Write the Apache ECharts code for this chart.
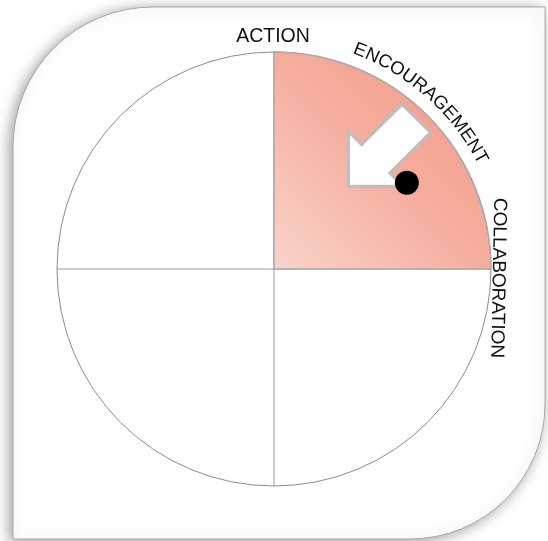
<!DOCTYPE html>
<html>
<head>
<meta charset="utf-8">
<script src="https://cdn.jsdelivr.net/npm/echarts@6/dist/echarts.min.js"></script>
<style>html,body{margin:0;padding:0;background:#fff;}#c{width:548px;height:541px;}</style>
</head>
<body>
<div id="c"></div>
<script>
// ---- data ----
const labels = ['ACTION', 'ENCOURAGEMENT', 'COLLABORATION'];
const quadrantNames = ['Encouragement', 'Other'];
const quadrantValues = [90, 270];          // degrees: filled quadrant, remainder
const dotPoint = [0.73, 33];               // [radius fraction, angle deg]
const arrowPoint = [0.78, 47];             // [radius fraction, angle deg]

// ---- layout ----
const CX = 274, CY = 269, R = 217;
const FONT = '"Liberation Sans", Arial, Helvetica, sans-serif';
const chart = echarts.init(document.getElementById('c'), null, {renderer: 'canvas'});

const mctx = document.createElement('canvas').getContext('2d');
function txtStyle(t, size) {
  return {text: t, fontSize: size, fontFamily: FONT, fill: '#111',
          align: 'center', verticalAlign: 'middle', textAlign: 'center', textVerticalAlign: 'middle'};
}
function arcText(text, centerDeg, rBase, size) {
  mctx.font = size + 'px ' + FONT;
  const chars = Array.from(text);
  const widths = chars.map(c => mctx.measureText(c).width);
  const total = widths.reduce((a, b) => a + b, 0);
  const rMid = rBase + size * 0.36;
  let s = -total / 2;
  return chars.map((c, i) => {
    const mid = s + widths[i] / 2; s += widths[i];
    const phi = centerDeg * Math.PI / 180 + mid / rBase;
    return {type: 'text', x: CX + rMid * Math.sin(phi), y: CY - rMid * Math.cos(phi),
            rotation: -phi, z: 100, style: txtStyle(c, size)};
  });
}

const graphics = [
  {type: 'rect', z: -100, silent: true,
   shape: {x: 13, y: 7, width: 532, height: 532, r: [140, 0, 135, 0]},
   style: {fill: '#fff', stroke: '#a8a8a8', lineWidth: 1,
           shadowBlur: 14, shadowColor: 'rgba(0,0,0,0.38)', shadowOffsetX: -3, shadowOffsetY: 2}},
  {type: 'text', x: CX - 1, y: 37, z: 100, style: txtStyle(labels[0], 19.5)},
  ...arcText(labels[1], 41.5, 228, 18.5),
  {type: 'text', x: 498, y: 278, rotation: -91 * Math.PI / 180, z: 100, style: txtStyle(labels[2], 19)}
];

const arrowPath = 'path://M0,84 L0,30 L13,43 L53,3 L81,31 L41,71 L54,84 Z';

chart.setOption({
  backgroundColor: '#fff',
  animation: false,
  graphic: graphics,
  polar: {center: [CX, CY], radius: R},
  angleAxis: {
    type: 'value', min: 0, max: 360, interval: 90, startAngle: 0, clockwise: false,
    axisLine: {show: true, lineStyle: {color: '#8c8c8c', width: 1}},
    axisTick: {show: false}, axisLabel: {show: false},
    splitLine: {show: true, lineStyle: {color: '#9c9c9c', width: 1}}
  },
  radiusAxis: {type: 'value', min: 0, max: 1, show: false,
    axisLine: {show: false}, splitLine: {show: false}, axisTick: {show: false}, axisLabel: {show: false}},
  series: [
    {
      type: 'pie', center: [CX, CY], radius: [0, R], startAngle: 90, clockwise: true,
      silent: true, label: {show: false}, labelLine: {show: false}, emphasis: {disabled: true},
      z: 3,
      data: [
        {name: quadrantNames[0], value: quadrantValues[0], itemStyle: {
          color: new echarts.graphic.LinearGradient(0, 1, 1, 0, [
            {offset: 0, color: '#fad4cb'}, {offset: 0.5, color: '#f5ad9e'}, {offset: 1, color: '#f29683'}]),
          borderColor: '#a9a9a9', borderWidth: 1.5}},
        {name: quadrantNames[1], value: quadrantValues[1], itemStyle: {color: 'rgba(0,0,0,0)', borderWidth: 0}}
      ]
    },
    {
      type: 'scatter', coordinateSystem: 'polar', silent: true, z: 5,
      symbol: arrowPath, symbolSize: 82, symbolKeepAspect: true,
      itemStyle: {color: '#fff', borderColor: '#bebebe', borderWidth: 3, opacity: 1},
      data: [arrowPoint]
    },
    {
      type: 'scatter', coordinateSystem: 'polar', silent: true, z: 6,
      symbol: 'circle', symbolSize: 24,
      itemStyle: {color: '#000', opacity: 1},
      data: [dotPoint]
    }
  ]
});
</script>
</body>
</html>
